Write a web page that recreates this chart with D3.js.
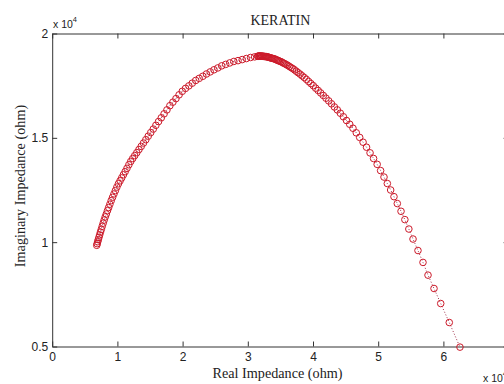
<!DOCTYPE html>
<html>
<head>
<meta charset="utf-8">
<script src="https://cdn.jsdelivr.net/npm/d3@7"></script>
<style>
  body { margin: 0; background: #fff; }
</style>
</head>
<body>
<div id="chart"></div>
<script>
const WIDTH = 504;
const HEIGHT = 384;

// plot box (right edge falls just outside the picture, as in the original)
const LEFT = 52.2;
const RIGHT = 508.6;
const TOP = 33.5;
const BOTTOM = 346.5;

const TITLE = 'KERATIN';
const XLABEL = 'Real Impedance (ohm)';
const YLABEL = 'Imaginary Impedance (ohm)';

// values are in units of 10^4 ohm
const EXPONENT = 4;
const XDOMAIN = [0, 7];
const YDOMAIN = [0.5, 2];
const xTicks = [0, 1, 2, 3, 4, 5, 6, 7];
const xTickLabels = ['0', '1', '2', '3', '4', '5', '6', ''];
const yTicks = [0.5, 1, 1.5, 2];
const yTickLabels = ['0.5', '1', '1.5', '2'];

const realZ = [
  0.683, 0.690, 0.698, 0.707, 0.717, 0.728, 0.740, 0.753, 0.767, 0.782,
  0.797, 0.813, 0.830, 0.848, 0.866, 0.885, 0.905, 0.926, 0.947, 0.969,
  0.992, 1.016, 1.041, 1.066, 1.092, 1.119, 1.147, 1.176, 1.205, 1.235,
  1.266, 1.298, 1.331, 1.365, 1.400, 1.436, 1.473, 1.511, 1.550, 1.590,
  1.631, 1.673, 1.716, 1.760, 1.805, 1.851, 1.898, 1.946, 1.995, 2.045,
  2.096, 2.148, 2.201, 2.255, 2.310, 2.366, 2.423, 2.481, 2.540, 2.600,
  2.661, 2.723, 2.786, 2.850, 2.914, 2.978, 3.042, 3.105,
  3.150, 3.160, 3.170, 3.180, 3.190, 3.200, 3.212, 3.224, 3.236, 3.248,
  3.261, 3.274, 3.287, 3.300, 3.314, 3.328, 3.342, 3.357, 3.372, 3.387,
  3.403, 3.419, 3.436, 3.453, 3.471, 3.489, 3.508, 3.528, 3.548, 3.569,
  3.591, 3.614, 3.638, 3.663, 3.689, 3.716, 3.744, 3.773, 3.803, 3.834,
  3.866, 3.899, 3.933, 3.968, 4.004, 4.041, 4.079, 4.118, 4.158, 4.199,
  4.241, 4.284, 4.328, 4.373, 4.419, 4.466, 4.514, 4.563, 4.613, 4.664,
  4.716, 4.768, 4.821, 4.875, 4.929, 4.984, 5.037, 5.089, 5.140, 5.191,
  5.242, 5.293, 5.350, 5.409, 5.470, 5.534, 5.610, 5.687, 5.764, 5.856,
  5.959, 6.090, 6.254
];

const imagZ = [
  0.985, 0.993, 1.002, 1.012, 1.023, 1.035, 1.048, 1.061, 1.076, 1.091,
  1.106, 1.121, 1.135, 1.151, 1.166, 1.182, 1.199, 1.215, 1.231, 1.247,
  1.264, 1.280, 1.294, 1.308, 1.323, 1.338, 1.354, 1.371, 1.387, 1.401,
  1.415, 1.429, 1.444, 1.459, 1.475, 1.491, 1.508, 1.525, 1.542, 1.560,
  1.578, 1.596, 1.615, 1.634, 1.654, 1.671, 1.688, 1.706, 1.723, 1.737,
  1.749, 1.762, 1.775, 1.785, 1.795, 1.806, 1.816, 1.826, 1.835, 1.845,
  1.852, 1.859, 1.866, 1.870, 1.875, 1.880, 1.885, 1.888,
  1.891, 1.891, 1.892, 1.892, 1.892, 1.892, 1.892, 1.891, 1.891, 1.890,
  1.890, 1.889, 1.889, 1.888, 1.887, 1.885, 1.884, 1.883, 1.881, 1.880,
  1.879, 1.877, 1.874, 1.872, 1.870, 1.867, 1.865, 1.862, 1.858, 1.855,
  1.851, 1.847, 1.842, 1.837, 1.832, 1.826, 1.819, 1.812, 1.805, 1.797,
  1.789, 1.780, 1.770, 1.760, 1.750, 1.738, 1.727, 1.715, 1.703, 1.690,
  1.677, 1.663, 1.648, 1.634, 1.618, 1.601, 1.583, 1.565, 1.546, 1.524,
  1.502, 1.479, 1.455, 1.428, 1.401, 1.373, 1.343, 1.312, 1.281, 1.250,
  1.218, 1.185, 1.148, 1.108, 1.063, 1.015, 0.960, 0.903, 0.842, 0.778,
  0.706, 0.615, 0.497
];

const MARKER_COLOR = '#cc1a2a';
const LINE_COLOR = '#a0304a';
const AXIS_COLOR = '#333';
const SERIF = '"Liberation Serif", "Times New Roman", serif';
const SANS = '"Liberation Sans", Arial, sans-serif';

const svg = d3.select('#chart').append('svg')
    .attr('width', WIDTH)
    .attr('height', HEIGHT);

svg.append('rect')
    .attr('width', WIDTH)
    .attr('height', HEIGHT)
    .attr('fill', '#fff');

const xScale = d3.scaleLinear().domain(XDOMAIN).range([LEFT, RIGHT]);
const yScale = d3.scaleLinear().domain(YDOMAIN).range([BOTTOM, TOP]);

function styleAxis(g) {
    g.selectAll('path, line').attr('stroke', AXIS_COLOR).attr('stroke-width', 1);
    g.selectAll('text')
        .attr('fill', '#222')
        .style('font-family', SANS)
        .style('font-size', '12px');
}

// bottom
svg.append('g')
    .attr('transform', 'translate(0,' + BOTTOM + ')')
    .call(d3.axisBottom(xScale).tickValues(xTicks)
        .tickFormat((d, i) => xTickLabels[i])
        .tickSizeInner(-5).tickSizeOuter(0).tickPadding(6))
    .call(styleAxis);

// top
svg.append('g')
    .attr('transform', 'translate(0,' + TOP + ')')
    .call(d3.axisTop(xScale).tickValues(xTicks).tickFormat('')
        .tickSizeInner(-5).tickSizeOuter(0))
    .call(styleAxis);

// left
svg.append('g')
    .attr('transform', 'translate(' + LEFT + ',0)')
    .call(d3.axisLeft(yScale).tickValues(yTicks)
        .tickFormat((d, i) => yTickLabels[i])
        .tickSizeInner(-5).tickSizeOuter(0).tickPadding(4))
    .call(styleAxis);

// right
svg.append('g')
    .attr('transform', 'translate(' + RIGHT + ',0)')
    .call(d3.axisRight(yScale).tickValues(yTicks).tickFormat('')
        .tickSizeInner(-5).tickSizeOuter(0))
    .call(styleAxis);

const points = realZ.map((x, i) => [x, imagZ[i]]);

// dotted connecting line
svg.append('path')
    .datum(points)
    .attr('fill', 'none')
    .attr('stroke', LINE_COLOR)
    .attr('stroke-width', 1)
    .attr('stroke-dasharray', '1,2')
    .attr('d', d3.line().x(d => xScale(d[0])).y(d => yScale(d[1])));

// circle markers
svg.append('g')
    .selectAll('circle')
    .data(points)
    .join('circle')
    .attr('cx', d => xScale(d[0]))
    .attr('cy', d => yScale(d[1]))
    .attr('r', 3.3)
    .attr('fill', 'none')
    .attr('stroke', MARKER_COLOR)
    .attr('stroke-width', 1);

// title
svg.append('text')
    .attr('x', (LEFT + RIGHT) / 2)
    .attr('y', 24.5)
    .attr('text-anchor', 'middle')
    .attr('fill', '#222')
    .style('font-family', SERIF)
    .style('font-size', '14px')
    .text(TITLE);

// x label
svg.append('text')
    .attr('x', 277.5)
    .attr('y', 377.5)
    .attr('text-anchor', 'middle')
    .attr('fill', '#222')
    .style('font-family', SERIF)
    .style('font-size', '14.2px')
    .text(XLABEL);

// y label
svg.append('text')
    .attr('transform', 'translate(25,186) rotate(-90)')
    .attr('text-anchor', 'middle')
    .attr('fill', '#222')
    .style('font-family', SERIF)
    .style('font-size', '14.2px')
    .text(YLABEL);

// exponent labels
function exponentLabel(x, y) {
    const t = svg.append('text')
        .attr('x', x)
        .attr('y', y)
        .attr('fill', '#222')
        .style('font-family', SANS)
        .style('font-size', '10.5px');
    t.append('tspan').text('x 10');
    t.append('tspan').attr('dy', -6).style('font-size', '7.5px').text(EXPONENT);
}
exponentLabel(53, 28);
exponentLabel(483, 382);
</script>
</body>
</html>
